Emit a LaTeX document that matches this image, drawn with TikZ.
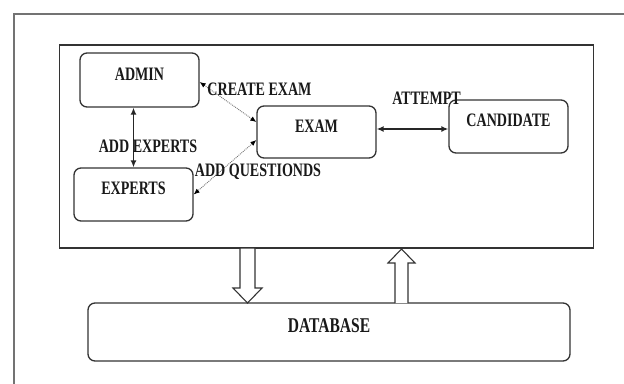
\documentclass[tikz,border=0pt]{standalone}
\usepackage{fontspec}
\newfontfamily\diafont[FakeStretch=0.74]{Liberation Serif}
\usetikzlibrary{calc,arrows.meta}
\begin{document}
\begin{tikzpicture}[x=1pt,y=-1pt,
  box/.style={draw=black!80,line width=1.3pt,rounded corners=7pt,fill=white,
    inner sep=0pt,text height=6.5pt,text depth=6.5pt,
    font=\diafont\bfseries\fontsize{19}{19}\selectfont,text=black!90},
  lbl/.style={inner sep=0pt,text height=12.5pt,text depth=0pt,
    font=\diafont\bfseries\fontsize{19}{19}\selectfont,text=black!90},
  solidarr/.style={line width=1.8pt,black!85,{Latex[length=7pt,width=6pt]}-{Latex[length=7pt,width=6pt]}},
  dotarr/.style={line width=0.9pt,black!55,densely dotted,{Latex[length=6pt,width=5pt,black]}-{Latex[length=6pt,width=5pt,black]}},
  blockarr/.style={draw=black!80,line width=1.1pt,fill=white,line join=miter}]
\useasboundingbox (0,0) rectangle (624,383);
\fill[white] (0,0) rectangle (624,383);
% outer frame
\coordinate (fbl) at (14,390);
\coordinate (ftl) at (14,14);
\coordinate (ftr) at (630,14);
\draw[black!55,line width=2pt] (fbl) -- (ftl) -- (ftr);
% inner box
\node[draw=black!80,line width=1.4pt,minimum width=534pt,minimum height=203pt,inner sep=0pt] (inner) at (326.5,146.5) {};
% boxes
\node[box,minimum width=119pt,minimum height=54pt] (admin) at (139.5,80) {ADMIN};
\node[box,minimum width=119pt,minimum height=53pt] (experts) at (133.5,194.5) {EXPERTS};
\node[box,minimum width=119pt,minimum height=52pt] (exam) at (316.5,132) {EXAM};
\node[box,minimum width=119pt,minimum height=53pt] (cand) at (508.5,126.5) {CANDIDATE};
\node[box,minimum width=482pt,minimum height=58pt,font=\diafont\bfseries\fontsize{21}{21}\selectfont,text height=7pt,text depth=7pt] (db) at (329,332) {DATABASE};
% connectors
\coordinate (ea) at ($(exam.east)+(0,-3)$);
\coordinate (ca) at (ea -| cand.west);
\draw[solidarr] (admin.south -| experts.north) -- (experts.north);
\draw[dotarr] ($(admin.east)+(0,2)$) -- ($(exam.west)+(0,-10)$);
\draw[dotarr] ($(exam.west)+(0,8)$) -- (experts.east);
\draw[solidarr] (ea) -- (ca);
% labels
\node[lbl] (lcreate) at (259.5,89) {CREATE EXAM};
\node[lbl] (lexperts) at (148,146) {ADD EXPERTS};
\node[lbl] (lquest) at (258,170) {ADD QUESTIONDS};
\node[lbl] (lattempt) at (426.5,98) {ATTEMPT};
% block arrows
\draw[blockarr] (240,248) -- (255,248) -- (255,288) -- (262,288) -- (247.5,303) -- (233,288) -- (240,288) -- cycle;
\draw[blockarr] (395,303) -- (395,263) -- (388,263) -- (401.5,249) -- (415,263) -- (408,263) -- (408,303);
\end{tikzpicture}
\end{document}
